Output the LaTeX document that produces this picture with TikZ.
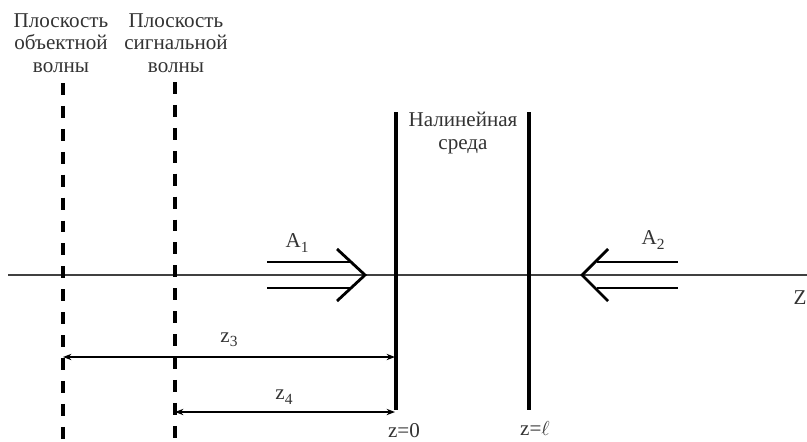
\documentclass[tikz,border=0pt]{standalone}
\usepackage{fontspec}
\setmainfont{Liberation Serif}
\usetikzlibrary{arrows.meta}

\newcommand{\lowidx}[1]{\raisebox{-0.45ex}{\fontsize{11}{11}\selectfont #1}}

\tikzset{
    plane/.style={line width=2.5pt, dash pattern=on 8.5pt off 7.8pt},
    wall/.style={line width=2.2pt},
    beam/.style={line width=2pt},
    dim/.style={line width=0.9pt, <->},
    lbl/.style={inner sep=0pt, text=black!80}
}

\begin{document}
\begin{tikzpicture}[x=0.025cm, y=-0.025cm, >={Stealth[length=6pt,width=4.5pt]},
    font=\fontsize{15}{16}\selectfont]
    \useasboundingbox (0,0) rectangle (807,441);

    % Axis
    \coordinate (axis start) at (8,275);
    \coordinate (axis end) at (807,275);
    \draw[line width=1pt, black!75] (axis start) -- (axis end);
    \node[lbl] (zaxis) at (800,298) {Z};

    % Planes of the waves
    \node[lbl, align=center] (objplane) at (61,43) {Плоскость\\объектной\\волны};
    \node[lbl, align=center] (sigplane) at (176,43) {Плоскость\\сигнальной\\волны};
    \coordinate (obj top) at (63,83);
    \coordinate (obj bot) at (63,441);
    \coordinate (sig top) at (175,82);
    \coordinate (sig bot) at (175,441);
    \draw[plane] (obj top) -- (obj bot);
    \draw[plane] (sig top) -- (sig bot);

    % Nonlinear medium
    \coordinate (front top) at (396,112);
    \coordinate (front bot) at (396,410);
    \coordinate (back top) at (529,112);
    \coordinate (back bot) at (529,410);
    \draw[wall] (front top) -- (front bot);
    \draw[wall] (back top) -- (back bot);
    \node[lbl, align=center] (medium) at (463,133) {Налинейная\\среда};
    \node[lbl] (zzero) at (404,431) {z=0};
    \node[lbl] (zell) at (535,428) {z=$\ell$};

    % Wave A1
    \draw[beam] (267,262) -- (350,262);
    \draw[beam] (267,288) -- (350,288);
    \draw[beam] (337,249) -- (365,275) -- (337,301);
    \node[lbl] (aone) at (297,243) {A\lowidx{1}};

    % Wave A2
    \draw[beam] (597,262) -- (678,262);
    \draw[beam] (597,288) -- (678,288);
    \draw[beam] (608,249) -- (582,275) -- (608,301);
    \node[lbl] (atwo) at (653,240) {A\lowidx{2}};

    % Distances
    \coordinate (z3 left) at (63,357);
    \coordinate (z3 right) at (395,357);
    \coordinate (z4 left) at (175,412);
    \coordinate (z4 right) at (395,412);
    \draw[dim] (z3 left) -- (z3 right);
    \draw[dim] (z4 left) -- (z4 right);
    \node[lbl] (zthree) at (229,340) {z\lowidx{3}};
    \node[lbl] (zfour) at (284,397) {z\lowidx{4}};
\end{tikzpicture}
\end{document}
